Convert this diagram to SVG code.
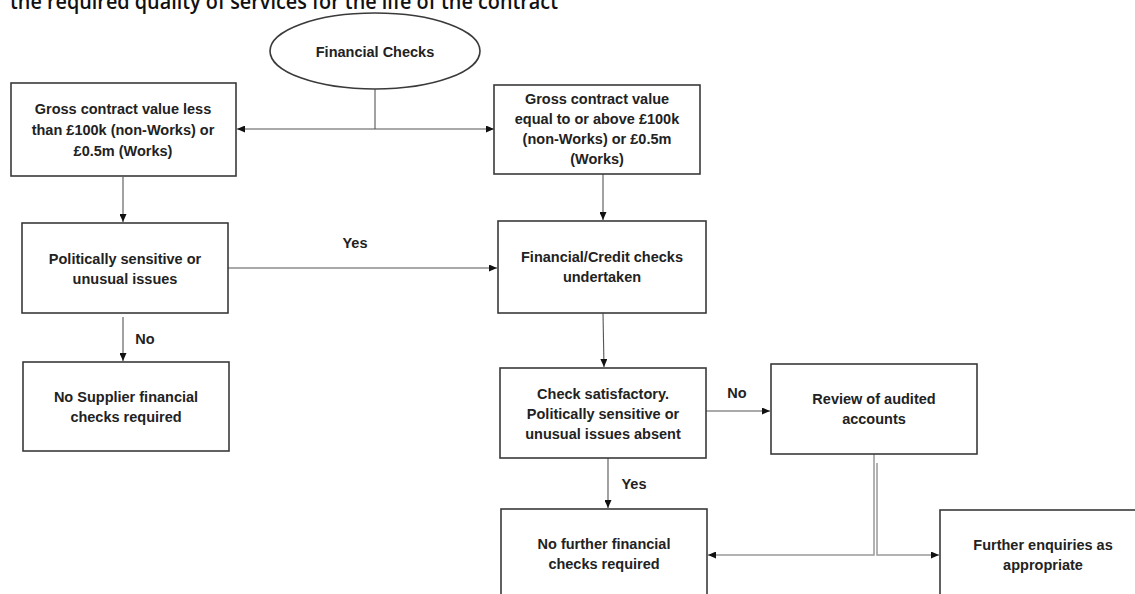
<svg xmlns="http://www.w3.org/2000/svg" width="1135" height="594" viewBox="0 0 1135 594">
<defs>
<marker id="ah" markerWidth="8" markerHeight="7" refX="8" refY="3.5" orient="auto" markerUnits="userSpaceOnUse">
<path d="M0,0 L8,3.5 L0,7 z" fill="#111"/>
</marker>
<style>
.box{fill:#fff;stroke:#3a3a3a;stroke-width:1.6}
.t{font-family:"Liberation Sans",Arial,sans-serif;font-size:14.5px;font-weight:bold;fill:#222;text-anchor:middle}
.c{fill:none;stroke:#555;stroke-width:1.1}
.g{fill:none;stroke:#999;stroke-width:1.5}
.lbl{font-family:"Liberation Sans",Arial,sans-serif;font-size:14.5px;font-weight:bold;fill:#222}
.hd{font-family:"Open Sans","Noto Sans",sans-serif;font-size:21px;font-weight:600;fill:#111}
</style>
</defs>
<rect width="1135" height="594" fill="#fff"/>
<text class="hd" x="10" y="9" textLength="548" lengthAdjust="spacingAndGlyphs">the required quality of services for the life of the contract</text>

<g id="connectors">
<line class="c" x1="375" y1="89" x2="375" y2="129"/>
<line class="c" x1="375" y1="129" x2="237" y2="129" marker-end="url(#ah)"/>
<line class="c" x1="375" y1="129" x2="494" y2="129" marker-end="url(#ah)"/>
<line class="c" x1="123" y1="177" x2="123" y2="222" marker-end="url(#ah)"/>
<line class="c" x1="228" y1="268" x2="497" y2="268" marker-end="url(#ah)"/>
<line class="c" x1="603" y1="174" x2="603" y2="220" marker-end="url(#ah)"/>
<line class="c" x1="603" y1="313" x2="604" y2="367" marker-end="url(#ah)"/>
<line class="c" x1="123" y1="317" x2="123" y2="361" marker-end="url(#ah)"/>
<line class="c" x1="706" y1="411" x2="770" y2="411" stroke-width="1.8" marker-end="url(#ah)"/>
<line class="c" x1="608" y1="458" x2="608" y2="508" marker-end="url(#ah)"/>
<polyline class="g" points="874,454 874,555 708,555" marker-end="url(#ah)"/>
<polyline class="g" points="877,463 877,555 939,555" marker-end="url(#ah)"/>
<text class="lbl" x="355" y="248" text-anchor="middle">Yes</text>
<text class="lbl" x="145" y="344" text-anchor="middle">No</text>
<text class="lbl" x="737" y="398" text-anchor="middle">No</text>
<text class="lbl" x="634" y="489" text-anchor="middle">Yes</text>
</g>

<g id="start">
<ellipse cx="375" cy="51" rx="105" ry="38" fill="#fff" stroke="#3a3a3a" stroke-width="1.6"/>
<text class="t" x="375" y="57">Financial  Checks</text>
</g>
<g id="less">
<rect class="box" x="11" y="83" width="225" height="93"/>
<text class="t" x="123" y="114">Gross contract  value less</text>
<text class="t" x="123" y="135">than £100k (non-Works) or</text>
<text class="t" x="123" y="156">£0.5m (Works)</text>
</g>
<g id="above">
<rect class="box" x="494" y="85" width="206" height="89"/>
<text class="t" x="597" y="104">Gross contract  value</text>
<text class="t" x="597" y="124">equal to or above £100k</text>
<text class="t" x="597" y="144">(non-Works) or £0.5m</text>
<text class="t" x="597" y="164">(Works)</text>
</g>
<g id="political">
<rect class="box" x="22" y="223" width="206" height="90"/>
<text class="t" x="125" y="264">Politically sensitive  or</text>
<text class="t" x="125" y="284">unusual  issues</text>
</g>
<g id="credit">
<rect class="box" x="498" y="221" width="208" height="92"/>
<text class="t" x="602" y="262">Financial/Credit  checks</text>
<text class="t" x="602" y="282">undertaken</text>
</g>
<g id="nosupplier">
<rect class="box" x="23" y="362" width="206" height="89"/>
<text class="t" x="126" y="402">No Supplier financial</text>
<text class="t" x="126" y="422">checks required</text>
</g>
<g id="satisfactory">
<rect class="box" x="500" y="368" width="206" height="90"/>
<text class="t" x="603" y="399">Check satisfactory.</text>
<text class="t" x="603" y="419">Politically sensitive or</text>
<text class="t" x="603" y="439">unusual  issues absent</text>
</g>
<g id="review">
<rect class="box" x="771" y="364" width="206" height="90"/>
<text class="t" x="874" y="404">Review of audited</text>
<text class="t" x="874" y="424">accounts</text>
</g>
<g id="nofurther">
<rect class="box" x="501" y="509" width="206" height="100"/>
<text class="t" x="604" y="549">No further financial</text>
<text class="t" x="604" y="569">checks required</text>
</g>
<g id="further">
<rect class="box" x="940" y="510" width="220" height="100"/>
<text class="t" x="1043" y="550">Further enquiries as</text>
<text class="t" x="1043" y="570">appropriate</text>
</g>
</svg>
